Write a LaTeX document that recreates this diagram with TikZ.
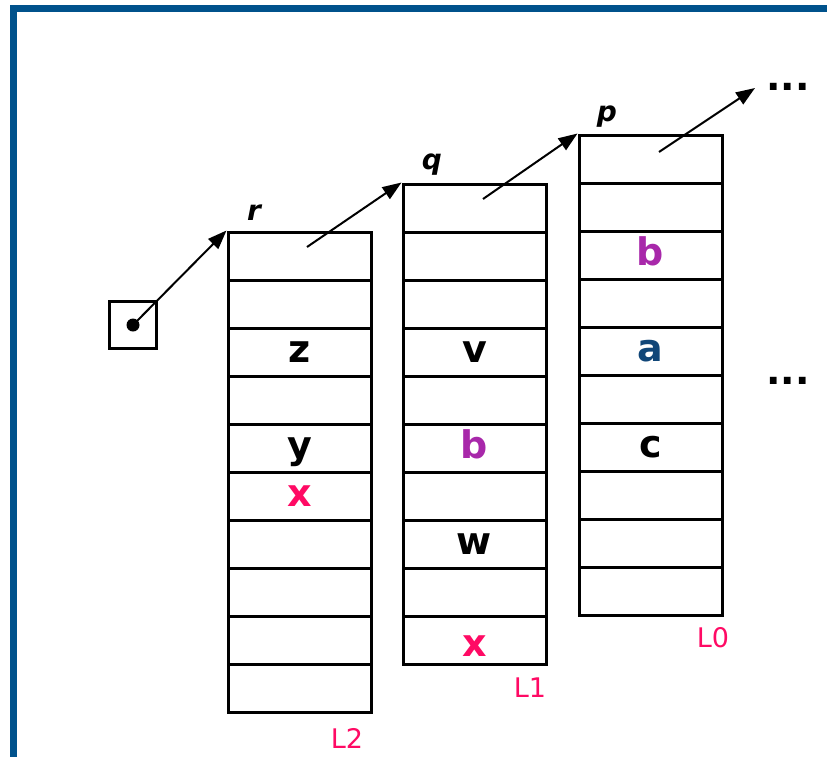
\documentclass[tikz,border=0pt]{standalone}
\usepackage{fontspec}
\setmainfont{DejaVu Sans}
\usetikzlibrary{arrows.meta}
\definecolor{frameblue}{RGB}{0,82,140}
\definecolor{keypink}{RGB}{255,10,100}
\definecolor{keypurple}{RGB}{168,40,170}
\definecolor{keyblue}{RGB}{16,70,120}
\tikzset{
  cell/.style={
    draw,
    line width=3pt,
    minimum width=143pt,
    minimum height=48pt,
    inner sep=0pt,
  },
  key/.style={
    font=\fontsize{38}{38}\selectfont\bfseries,
    text height=28pt,
    text depth=7pt,
    inner sep=0pt,
  },
  level/.style={
    font=\fontsize{27}{27}\selectfont,
    text=keypink,
  },
  ptr/.style={
    font=\fontsize{28}{28}\selectfont\bfseries\itshape,
  },
  link/.style={
    line width=2pt,
    -{Triangle[length=19pt,width=14pt]},
  },
}

\begin{document}
\begin{tikzpicture}[x=1pt, y=-1pt]
      \useasboundingbox (0,0) rectangle (827,756);
      \draw[frameblue, line width=7pt] (13.5,760) -- (13.5,8.5) -- (830,8.5);

      % the three levels
      \foreach \i in {0,...,9} {
        \node[cell] (r\i) at (299.5,256+48*\i) {};
        \node[cell] (q\i) at (474.5,208+48*\i) {};
        \node[cell] (p\i) at (650.5,159+48*\i) {};
      }

      \node[key] (z) at (r2) {z};
      \node[key] (y) at (r4) {y};
      \node[key, text=keypink] (x2) at (r5) {x};
      \node[key] (v) at (q3) {v};
      \node[key, text=keypurple] (b1) at (q5) {b};
      \node[key] (w) at (q7) {w};
      \node[key, text=keypink, yshift=-6pt] (x1) at (q9) {x};
      \node[key, text=keypurple] (b0) at (p2) {b};
      \node[key, text=keyblue] (a) at (p4) {a};
      \node[key] (c) at (p6) {c};

      \node[ptr] (rlab) at (254,213) {r};
      \node[ptr] (qlab) at (432,165) {q};
      \node[ptr] (plab) at (607,117) {p};

      \node[level] (L2) at (347,738) {L2};
      \node[level] (L1) at (530,688) {L1};
      \node[level] (L0) at (713,638) {L0};

      % head pointer
      \node[draw, line width=2.4pt, minimum size=47pt] (head) at (133,325) {};
      \fill (head.center) circle (6.5pt);

      \coordinate (rnext) at (307,247);
      \coordinate (qnext) at (483,199);
      \coordinate (pnext) at (659,152);
      \coordinate (more) at (755,88);

      \draw[link] (head.center) -- (r0.north west);
      \draw[link] (rnext) -- (q0.north west);
      \draw[link] (qnext) -- (p0.north west);
      \draw[link] (pnext) -- (more);

      \node[key] (dotsup) at (788,80) {...};
      \node[key] (dotsmid) at (788,374) {...};
    \end{tikzpicture}
\end{document}
